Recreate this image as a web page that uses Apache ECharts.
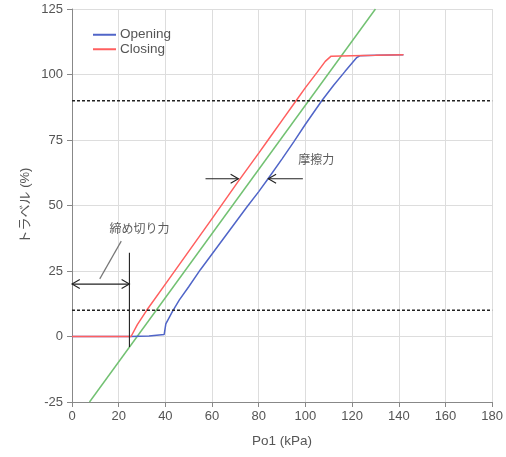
<!DOCTYPE html>
<html><head><meta charset="utf-8">
<script src="https://cdn.jsdelivr.net/npm/echarts@6/dist/echarts.min.js"></script>
<style>html,body{margin:0;padding:0;background:#fff}#c{width:506px;height:457px}</style>
</head><body><div id="c"></div>
<script>
// ---- data ----
const xTicks = [0, 20, 40, 60, 80, 100, 120, 140, 160, 180];
const yTicks = [-25, 0, 25, 50, 75, 100, 125];
const openingX = [0, 25, 33, 39.5, 40.2, 43, 46, 50, 55, 60, 65, 70, 75, 80, 84, 90, 95, 100, 107, 112, 117, 122, 123.5, 130, 142];
const openingY = [0, 0, 0.2, 0.8, 4.8, 9.5, 14, 19, 25.5, 31.5, 37.5, 43.5, 49.5, 55.3, 60.2, 67.8, 74.3, 81, 90, 95.8, 101.2, 106.5, 107.2, 107.3, 107.5];
const closingX = [0, 25.3, 28, 32, 40, 50, 60, 71.3, 80, 84, 90, 96, 100, 105, 108.5, 111, 120, 130, 142];
const closingY = [0, 0, 4.5, 10, 20, 32.5, 45, 59.3, 70, 75, 82.5, 90, 95, 100.8, 105, 107, 107.2, 107.3, 107.5];
const refLineX = [7.5, 130];
const refLineY = [-25, 125];
const dashLevels = [10, 90];
// annotation segments: [x1, y1, x2, y2, headAtStart, headAtEnd, kind]
const annotations = [
  [0, 20, 24.6, 20, 1, 1, 0],
  [24.6, 32, 24.6, -4, 0, 0, 0],
  [11.9, 22, 21.1, 36.4, 0, 0, 1],
  [57.2, 60.2, 71.3, 60.2, 0, 1, 0],
  [98.9, 60.2, 84.1, 60.2, 0, 1, 0]
];
const labelNames = ['締め切り力', '摩擦力'];
const labelX = [28.9, 104.6];
const labelY = [41.2, 67.4];

// ---- chart ----
const zip = (a, b) => a.map((v, i) => [v, b[i]]);
const FONT = '"Liberation Sans", "Noto Sans CJK JP", sans-serif';
const chart = echarts.init(document.getElementById('c'), null, {renderer: 'canvas'});

function chevron(tip, from, len) {
  const dx = from[0] - tip[0], dy = from[1] - tip[1];
  const d = Math.hypot(dx, dy) || 1;
  const ux = dx / d, uy = dy / d;
  const a = Math.PI / 6;
  const c = Math.cos(a), s = Math.sin(a);
  const p1 = [tip[0] + len * (ux * c - uy * s), tip[1] + len * (ux * s + uy * c)];
  const p2 = [tip[0] + len * (ux * c + uy * s), tip[1] + len * (-ux * s + uy * c)];
  return {type: 'polyline', shape: {points: [p1, tip, p2]}, style: {stroke: '#222', lineWidth: 1.1, fill: null}};
}

const option = {
  animation: false,
  backgroundColor: '#fff',
  textStyle: {fontFamily: FONT},
  grid: {left: 72, right: 10, top: 9, bottom: 55, containLabel: false},
  legend: {
    data: ['Opening', 'Closing'],
    orient: 'vertical', left: 88, top: 23, itemGap: 1, padding: 5,
    itemWidth: 23, itemHeight: 12, icon: 'path://M0,5 L23,5 L23,7 L0,7 Z',
    textStyle: {color: '#555', fontSize: 13.5, fontFamily: FONT, padding: [0, 0, 0, -1]}
  },
  xAxis: {
    type: 'value', min: xTicks[0], max: xTicks[xTicks.length - 1], interval: 20,
    name: 'Po1 (kPa)', nameLocation: 'middle', nameGap: 33,
    nameTextStyle: {color: '#555', fontSize: 13.5, fontFamily: FONT},
    axisLine: {onZero: false, lineStyle: {color: '#888'}},
    axisTick: {show: true, length: 5, lineStyle: {color: '#888'}},
    axisLabel: {color: '#555', fontSize: 13, margin: 8},
    splitLine: {show: true, lineStyle: {color: '#ddd'}}
  },
  yAxis: {
    type: 'value', min: yTicks[0], max: yTicks[yTicks.length - 1], interval: 25,
    name: 'トラベル (%)', nameLocation: 'middle', nameGap: 40, nameMoveOverlap: false,
    nameTextStyle: {color: '#555', fontSize: 13, fontFamily: FONT},
    axisLine: {show: true, lineStyle: {color: '#888'}},
    axisTick: {show: true, length: 5, lineStyle: {color: '#888'}},
    axisLabel: {color: '#555', fontSize: 13, margin: 9},
    splitLine: {show: true, lineStyle: {color: '#ddd'}}
  },
  series: [
    {name: 'Reference', type: 'line', data: zip(refLineX, refLineY), showSymbol: false,
     lineStyle: {color: '#72c172', width: 1.5}, silent: true, z: 3},
    {name: 'Opening', type: 'line', data: zip(openingX, openingY), showSymbol: false,
     itemStyle: {color: '#5065c8'}, lineStyle: {color: '#5065c8', width: 1.5}, z: 4},
    {name: 'Closing', type: 'line', data: zip(closingX, closingY), showSymbol: false,
     itemStyle: {color: '#ff5f5f'}, lineStyle: {color: '#ff5f5f', width: 1.5}, z: 4},
    ...dashLevels.map(v => ({
      name: 'dash' + v, type: 'line', data: [[xTicks[0], v], [xTicks[xTicks.length - 1], v]], showSymbol: false,
      lineStyle: {color: '#222', width: 1.5, type: [3, 2]}, z: 5, silent: true
    })),
    {name: 'annot', type: 'custom', data: annotations, z: 6, clip: false,
     encode: {x: [0, 2], y: [1, 3]},
     renderItem: function (params, api) {
       const p1 = api.coord([api.value(0), api.value(1)]);
       const p2 = api.coord([api.value(2), api.value(3)]);
       const kind = api.value(6);
       const children = [{type: 'line', shape: {x1: p1[0], y1: p1[1], x2: p2[0], y2: p2[1]},
         style: {stroke: kind === 1 ? '#777' : '#222', lineWidth: kind === 1 ? 1.2 : 1.1}}];
       if (api.value(4)) children.push(chevron(p1, p2, 9));
       if (api.value(5)) children.push(chevron(p2, p1, 9));
       return {type: 'group', children: children};
     }},
    {name: 'labels', type: 'scatter', symbolSize: 0, z: 7,
     data: labelNames.map((n, i) => ({name: n, value: [labelX[i], labelY[i]]})),
     label: {show: true, position: 'inside', formatter: p => p.name, color: '#333', fontSize: 12,
             fontFamily: '"Noto Sans CJK JP", sans-serif'}}
  ]
};
chart.setOption(option);
</script></body></html>
